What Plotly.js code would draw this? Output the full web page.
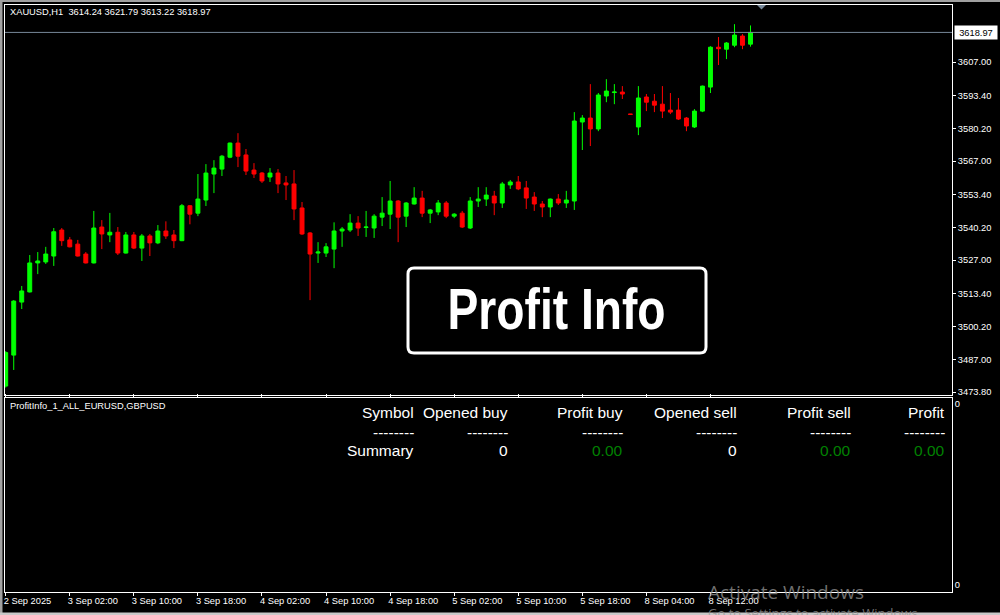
<!DOCTYPE html>
<html>
<head>
<meta charset="utf-8">
<script src="https://cdn.plot.ly/plotly-3.0.1.min.js"></script>
<style>
  html, body { margin: 0; padding: 0; background: #000; }
  #chart { width: 1000px; height: 615px; }
</style>
</head>
<body>
<div id="chart"></div>
<script>
// ---- data (XAUUSD, H1) ----
const symbolName = 'XAUUSD,H1';
const barIndex = Array.from({length: 94}, (_, i) => i);
const openPrices = [
  3476.2, 3488.7, 3510.1, 3514.2, 3525.9, 3526.3, 3528.7, 3539.2, 3535.2, 3533.5,
  3529.5, 3525.9, 3540.4, 3537.2, 3538.3, 3529.9, 3537.2, 3531.9, 3536.8, 3534.0,
  3538.8, 3537.2, 3534.9, 3549.0, 3546.0, 3551.3, 3561.8, 3563.8, 3568.6, 3574.3,
  3569.5, 3563.4, 3562.2, 3560.6, 3562.2, 3558.2, 3557.8, 3548.1, 3538.0, 3529.9,
  3529.9, 3531.5, 3538.8, 3539.2, 3542.0, 3540.2, 3540.0, 3544.4, 3545.6, 3550.9,
  3544.8, 3549.7, 3552.1, 3546.0, 3546.5, 3550.1, 3544.8, 3546.0, 3540.0, 3550.9,
  3551.7, 3552.9, 3550.1, 3557.4, 3558.6, 3556.2, 3552.5, 3549.7, 3548.5, 3551.7,
  3550.1, 3550.9, 3582.8, 3584.4, 3580.0, 3593.3, 3594.7, 3594.9, 3586.0, 3580.8,
  3592.9, 3591.2, 3590.0, 3587.6, 3587.6, 3584.4, 3580.8, 3587.2, 3596.9, 3613.0,
  3612.2, 3613.8, 3617.5, 3614.24
];
const highPrices = [
  3490.3, 3510.9, 3516.6, 3529.1, 3530.3, 3532.4, 3540.0, 3540.0, 3536.4, 3535.2,
  3530.3, 3546.9, 3543.2, 3546.1, 3540.4, 3538.4, 3538.4, 3537.6, 3537.6, 3541.2,
  3542.7, 3539.2, 3549.7, 3549.3, 3561.8, 3565.8, 3567.4, 3569.5, 3574.5, 3578.3,
  3571.9, 3566.2, 3562.6, 3564.2, 3563.8, 3561.0, 3563.4, 3550.5, 3538.4, 3534.3,
  3533.9, 3542.3, 3540.4, 3545.6, 3544.8, 3546.9, 3545.6, 3552.5, 3559.0, 3551.3,
  3550.5, 3556.5, 3555.0, 3547.7, 3551.3, 3550.9, 3546.0, 3546.9, 3552.5, 3556.5,
  3556.5, 3555.0, 3558.6, 3559.4, 3561.0, 3559.0, 3554.5, 3550.9, 3551.9, 3553.7,
  3555.0, 3586.8, 3585.6, 3598.1, 3594.5, 3600.1, 3598.1, 3597.3, 3586.0, 3597.3,
  3594.1, 3594.1, 3597.3, 3594.5, 3592.5, 3584.8, 3588.0, 3597.5, 3613.4, 3617.1,
  3615.1, 3622.3, 3618.3, 3621.79
];
const lowPrices = [
  3475.6, 3482.7, 3507.3, 3514.0, 3521.4, 3525.5, 3524.7, 3532.8, 3532.2, 3528.5,
  3525.7, 3525.7, 3531.5, 3534.3, 3529.1, 3529.7, 3531.5, 3526.7, 3528.7, 3533.5,
  3535.6, 3531.9, 3534.7, 3541.5, 3544.8, 3548.9, 3554.1, 3561.0, 3568.2, 3564.6,
  3561.4, 3560.2, 3558.2, 3558.6, 3554.1, 3551.3, 3543.2, 3537.2, 3510.9, 3525.9,
  3528.3, 3523.8, 3532.4, 3538.4, 3536.8, 3536.4, 3536.0, 3540.8, 3539.6, 3534.3,
  3540.4, 3549.5, 3544.4, 3542.0, 3545.2, 3544.0, 3544.0, 3540.0, 3539.6, 3548.5,
  3548.9, 3545.2, 3548.1, 3555.8, 3555.3, 3547.7, 3546.9, 3544.4, 3544.4, 3549.3,
  3548.1, 3547.3, 3571.5, 3573.1, 3579.1, 3590.8, 3590.0, 3592.1, 3585.9, 3577.5,
  3587.2, 3586.8, 3584.4, 3586.0, 3583.6, 3579.1, 3580.4, 3586.8, 3594.5, 3605.8,
  3608.2, 3613.0, 3612.2, 3613.22
];
const closePrices = [
  3489.7, 3510.5, 3514.6, 3525.9, 3526.7, 3529.5, 3538.5, 3534.9, 3532.4, 3528.7,
  3525.9, 3540.0, 3537.6, 3538.3, 3529.9, 3537.2, 3531.9, 3536.8, 3534.0, 3538.8,
  3536.8, 3534.9, 3549.0, 3545.6, 3551.7, 3562.2, 3564.2, 3569.0, 3574.3, 3569.0,
  3563.0, 3561.8, 3559.0, 3562.2, 3557.8, 3557.4, 3547.7, 3537.6, 3529.5, 3530.3,
  3532.4, 3538.8, 3539.6, 3542.0, 3540.0, 3540.4, 3544.8, 3546.0, 3550.9, 3544.4,
  3550.1, 3552.1, 3546.0, 3547.3, 3550.1, 3544.8, 3545.6, 3540.4, 3550.9, 3551.7,
  3553.3, 3550.1, 3557.8, 3558.6, 3555.8, 3552.1, 3549.7, 3548.5, 3551.7, 3550.1,
  3551.3, 3583.2, 3584.4, 3580.0, 3593.7, 3595.3, 3594.9, 3594.1, 3585.9, 3592.5,
  3590.8, 3589.6, 3587.2, 3586.8, 3584.0, 3581.2, 3587.2, 3597.3, 3613.0, 3612.4,
  3614.7, 3617.9, 3613.8, 3618.97
];
const xTickIndex = [0, 8, 16, 24, 32, 40, 48, 56, 64, 72, 80, 88];
const xTickLabels = ['2 Sep 2025', '3 Sep 02:00', '3 Sep 10:00', '3 Sep 18:00', '4 Sep 02:00',
  '4 Sep 10:00', '4 Sep 18:00', '5 Sep 02:00', '5 Sep 10:00', '5 Sep 18:00', '8 Sep 04:00', '8 Sep 12:00'];
const yTickValues = [3607.00, 3593.40, 3580.20, 3567.00, 3553.40, 3540.20, 3527.00, 3513.40, 3500.20, 3487.00, 3473.80];
const yTickLabels = ['3607.00', '3593.40', '3580.20', '3567.00', '3553.40', '3540.20', '3527.00', '3513.40', '3500.20', '3487.00', '3473.80'];

const indicatorName = 'ProfitInfo_1_ALL_EURUSD,GBPUSD';
const tableHeaders = ['Symbol', 'Opened buy', 'Profit buy', 'Opened sell', 'Profit sell', 'Profit'];
const tableSummary = ['Summary', '0', '0.00', '0', '0.00', '0.00'];
const tableIsMoney = [false, false, true, false, true, true];
const bannerText = 'Profit Info';

// ---- layout helpers (pixel -> paper) ----
const L = 5, R = 48, T = 5, B = 23, W = 1000, H = 615;
const PW = W - L - R, PH = H - T - B;
const px = x => (x - L) / PW;
const py = y => (H - B - y) / PH;

const last = closePrices.length - 1;
const fmt = v => v.toFixed(2);
const headerText = symbolName + '\u00a0\u00a0' + [openPrices[last], highPrices[last], lowPrices[last], closePrices[last]].map(fmt).join('\u00a0');

const smallFont = {family: 'Liberation Sans, Arial, sans-serif', size: 9.3, color: '#ffffff'};
const tableFont = {family: 'Liberation Sans, Arial, sans-serif', size: 15.5, color: '#ffffff'};
const colRight = [415.5, 510, 624.5, 738.5, 852.5, 947];

const annotations = [];
annotations.push({xref: 'paper', yref: 'paper', x: px(8), y: py(12.5), xanchor: 'left', yanchor: 'middle',
  text: headerText, showarrow: false, font: smallFont});
annotations.push({xref: 'paper', yref: 'paper', x: px(8), y: py(406.5), xanchor: 'left', yanchor: 'middle',
  text: indicatorName, showarrow: false, font: smallFont});
// current price label
annotations.push({xref: 'paper', yref: 'y', x: px(954), y: closePrices[last], xanchor: 'left', yanchor: 'middle',
  text: fmt(closePrices[last]), showarrow: false, bgcolor: '#ffffff', width: 40, height: 11, borderpad: 1,
  font: {family: 'Liberation Sans, Arial, sans-serif', size: 9.3, color: '#000000'}});
// table
tableHeaders.forEach((h, i) => {
  annotations.push({xref: 'paper', yref: 'paper', x: px(colRight[i]), y: py(412.5), xanchor: 'right', yanchor: 'middle',
    text: h, showarrow: false, font: tableFont});
  annotations.push({xref: 'paper', yref: 'paper', x: px(colRight[i]), y: py(432.5), xanchor: 'right', yanchor: 'middle',
    text: '--------', showarrow: false, font: tableFont});
  annotations.push({xref: 'paper', yref: 'paper', x: px(colRight[i]), y: py(450.5), xanchor: 'right', yanchor: 'middle',
    text: tableSummary[i], showarrow: false,
    font: Object.assign({}, tableFont, {color: tableIsMoney[i] ? '#008000' : '#ffffff'})});
});
// banner
annotations.push({xref: 'paper', yref: 'paper', x: px(556), y: py(309), xanchor: 'center', yanchor: 'middle',
  text: bannerText, showarrow: false, name: 'banner',
  font: {family: 'Liberation Sans, Arial, sans-serif', size: 57, weight: 'bold', color: '#ffffff'}});
// watermark
annotations.push({xref: 'paper', yref: 'paper', x: px(706), y: py(592), xanchor: 'left', yanchor: 'middle',
  text: 'Activate Windows', showarrow: false,
  font: {family: 'Open Sans, Noto Sans, sans-serif', size: 19, color: 'rgba(150,150,150,0.75)'}});
annotations.push({xref: 'paper', yref: 'paper', x: px(706), y: py(613), xanchor: 'left', yanchor: 'middle',
  text: 'Go to Settings to activate Windows.', showarrow: false,
  font: {family: 'Open Sans, Noto Sans, sans-serif', size: 13, color: 'rgba(150,150,150,0.75)'}});

// rounded rectangle for the banner
function roundRect(x0, y0, x1, y1, r) {
  const P = (x, y) => px(x) + ',' + py(y);
  return 'M' + P(x0 + r, y0) + ' L' + P(x1 - r, y0) + ' Q' + P(x1, y0) + ' ' + P(x1, y0 + r) +
    ' L' + P(x1, y1 - r) + ' Q' + P(x1, y1) + ' ' + P(x1 - r, y1) +
    ' L' + P(x0 + r, y1) + ' Q' + P(x0, y1) + ' ' + P(x0, y1 - r) +
    ' L' + P(x0, y0 + r) + ' Q' + P(x0, y0) + ' ' + P(x0 + r, y0) + ' Z';
}

const shapes = [
  // bid line
  {type: 'line', xref: 'paper', yref: 'y', x0: 0, x1: 1, y0: closePrices[last], y1: closePrices[last],
   line: {color: '#778899', width: 1}},
  // banner box
  {type: 'path', xref: 'paper', yref: 'paper', path: roundRect(408, 268, 706, 353, 6),
   line: {color: '#ffffff', width: 3}, fillcolor: 'rgba(0,0,0,0)'},
  // shift marker
  {type: 'path', xref: 'paper', yref: 'paper',
   path: 'M' + px(757) + ',' + py(5) + ' L' + px(766) + ',' + py(5) + ' L' + px(761.5) + ',' + py(9.5) + ' Z',
   fillcolor: '#778899', line: {color: '#778899', width: 0}},
  // window frame (gray)
  {type: 'rect', xref: 'paper', yref: 'paper', x0: px(0), x1: px(2.5), y0: py(615), y1: py(0),
   fillcolor: '#a0a0a0', line: {width: 0}},
  {type: 'rect', xref: 'paper', yref: 'paper', x0: px(0), x1: px(1000), y0: py(2), y1: py(0),
   fillcolor: '#a0a0a0', line: {width: 0}},
  {type: 'rect', xref: 'paper', yref: 'paper', x0: px(0), x1: px(1000), y0: py(615), y1: py(612.5),
   fillcolor: '#c8c8c8', line: {width: 0}}
];

const traces = [
  {type: 'candlestick', x: barIndex, open: openPrices, high: highPrices, low: lowPrices, close: closePrices,
   xaxis: 'x', yaxis: 'y', whiskerwidth: 0,
   increasing: {line: {color: '#00ff00', width: 1}, fillcolor: '#00ff00'},
   decreasing: {line: {color: '#ff0000', width: 1}, fillcolor: '#ff0000'},
   hoverinfo: 'skip', showlegend: false},
  {type: 'scatter', x: [], y: [], xaxis: 'x', yaxis: 'y2', showlegend: false, hoverinfo: 'skip'}
];

const axisFont = {family: 'Liberation Sans, Arial, sans-serif', size: 9.3, color: '#ffffff'};
const layout = {
  width: W, height: H,
  margin: {l: L, r: R, t: T, b: B, pad: 0},
  paper_bgcolor: '#000000', plot_bgcolor: '#000000',
  showlegend: false,
  xaxis: {
    anchor: 'y2', range: [-0.09, 118.16], rangeslider: {visible: false},
    tickmode: 'array', tickvals: xTickIndex, ticktext: xTickLabels,
    ticks: 'outside', ticklen: 3, tickcolor: '#ffffff', tickwidth: 1,
    ticklabelposition: 'outside right', ticklabelshift: -3,
    showline: true, linecolor: '#ffffff', linewidth: 1, mirror: 'all',
    showgrid: false, zeroline: false, tickfont: axisFont, fixedrange: true
  },
  yaxis: {
    domain: [py(395.3), 1], side: 'right', range: [3472.47, 3630.04],
    tickmode: 'array', tickvals: yTickValues, ticktext: yTickLabels,
    ticks: 'outside', ticklen: 3, tickcolor: '#ffffff', tickwidth: 1,
    showline: true, linecolor: '#ffffff', linewidth: 1, mirror: true,
    showgrid: false, zeroline: false, tickfont: axisFont, fixedrange: true
  },
  yaxis2: {
    domain: [0, py(398.3)], side: 'right', range: [0, 1],
    tickmode: 'array', tickvals: [py(404) / py(398.3), py(585) / py(398.3)], ticktext: ['0', '0'],
    ticks: '', showline: true, linecolor: '#ffffff', linewidth: 1, mirror: true,
    showgrid: false, zeroline: false, tickfont: axisFont, fixedrange: true
  },
  shapes: shapes,
  annotations: annotations
};

const gd = document.getElementById('chart');
Plotly.newPlot(gd, traces, layout, {staticPlot: true, displayModeBar: false}).then(() => {
  // narrow (condensed) look for the banner text, as in the reference
  gd.querySelectorAll('.annotation-text').forEach(t => {
    if (t.textContent === bannerText) {
      t.setAttribute('textLength', '218');
      t.setAttribute('lengthAdjust', 'spacingAndGlyphs');
    }
  });
});
</script>
</body>
</html>
